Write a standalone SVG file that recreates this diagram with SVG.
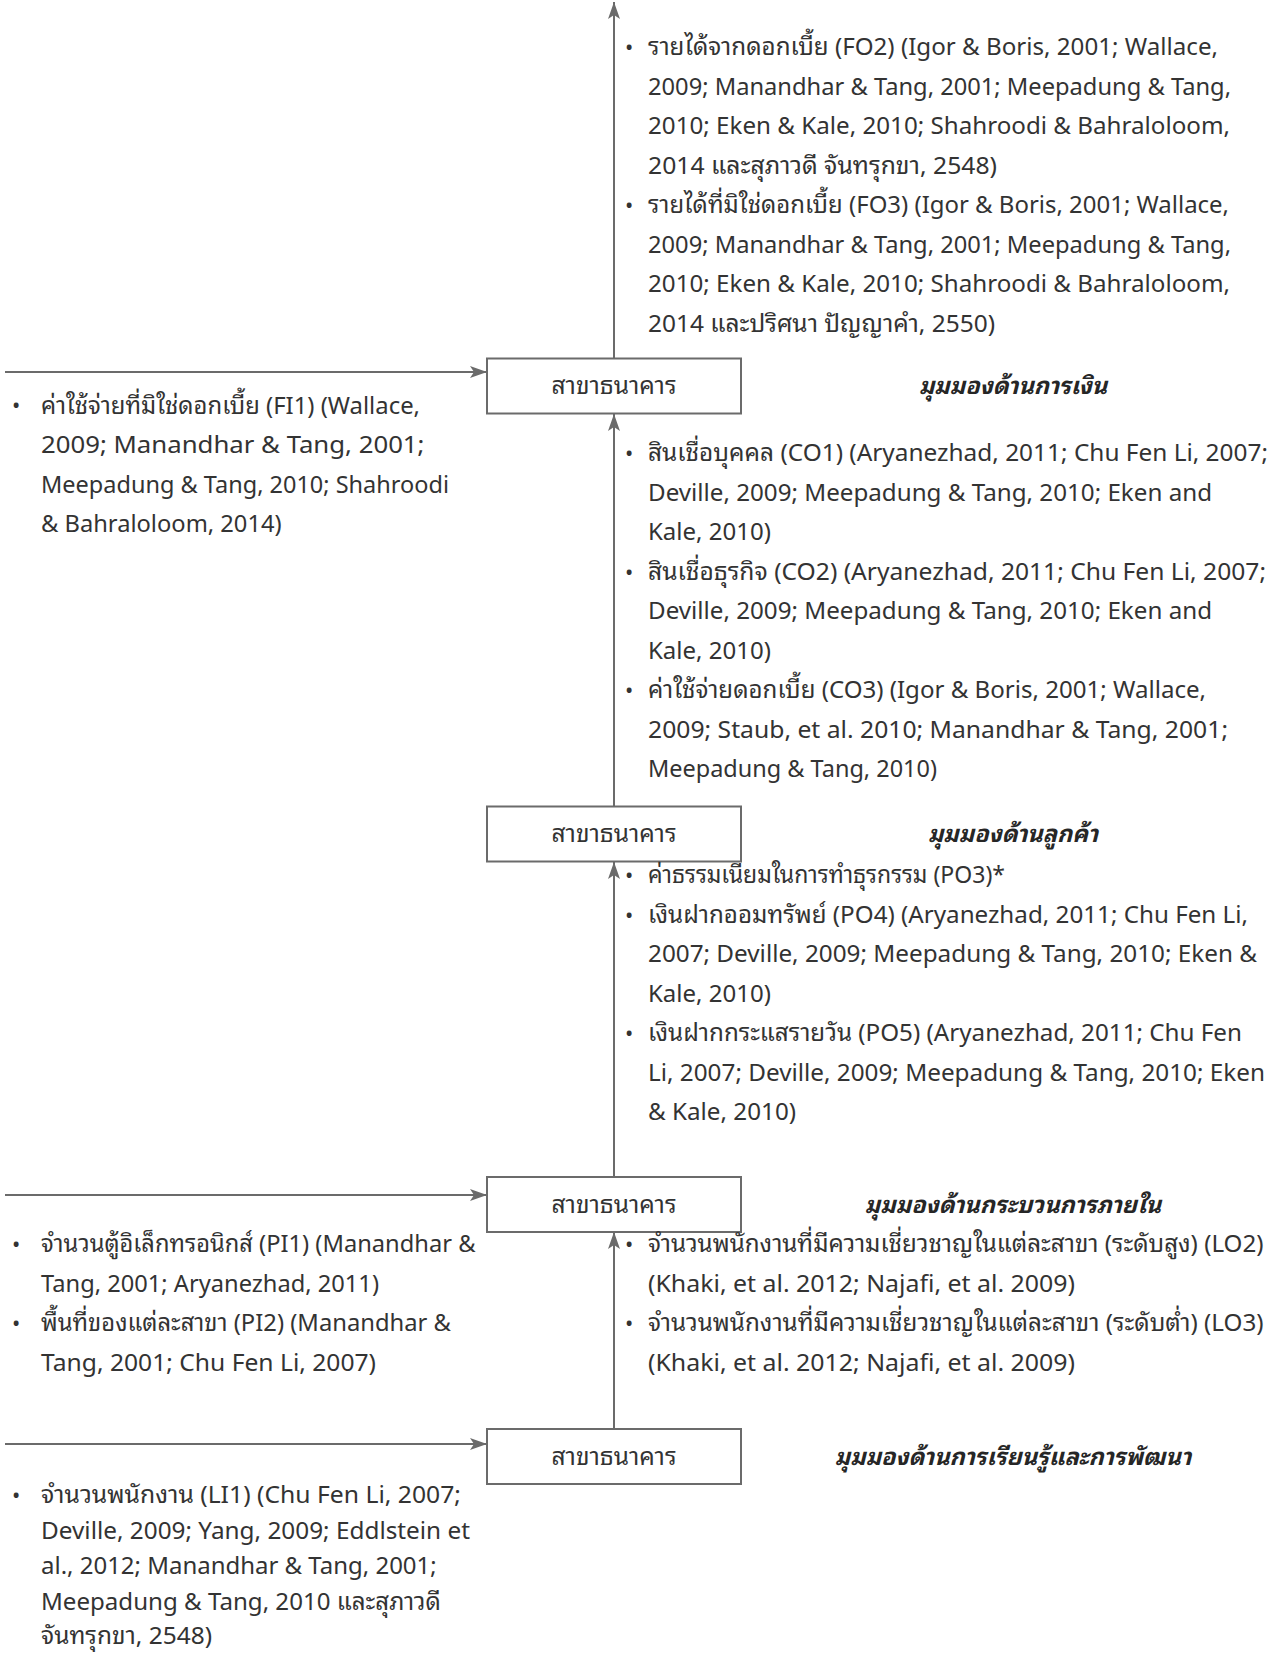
<svg xmlns="http://www.w3.org/2000/svg" width="1280" height="1653" viewBox="0 0 1280 1653">
<style>
.t{font-family:"Noto Sans Thai Looped","Noto Sans Thai","Noto Sans","DejaVu Sans",sans-serif;font-size:24px;fill:#333333}
.b{font-family:"Noto Sans","DejaVu Sans",sans-serif;font-size:22px;fill:#333333}
.h{font-family:"Noto Sans Thai Looped","Noto Sans Thai","Noto Sans","DejaVu Sans",sans-serif;font-size:23.5px;font-weight:bold;font-style:italic;fill:#262626;text-anchor:middle}
.lbl{font-family:"Noto Sans Thai Looped","Noto Sans Thai","Noto Sans","DejaVu Sans",sans-serif;font-size:24.5px;fill:#333333;text-anchor:middle}
.box{fill:#ffffff;stroke:#6b6b6b;stroke-width:2}
.c{stroke:#6b6b6b;stroke-width:2;fill:none}
</style>
<defs>
<marker id="ah" markerUnits="userSpaceOnUse" markerWidth="18" markerHeight="14" refX="17" refY="7" orient="auto">
<path d="M0,1 L17,7 L0,13 L4,7 z" fill="#6b6b6b"/>
</marker>
</defs>
<g id="connectors">
<line class="c" x1="614" y1="358" x2="614" y2="2" marker-end="url(#ah)"/>
<line class="c" x1="5" y1="372" x2="487" y2="372" marker-end="url(#ah)"/>
<line class="c" x1="614" y1="806" x2="614" y2="414" marker-end="url(#ah)"/>
<line class="c" x1="614" y1="1177" x2="614" y2="862" marker-end="url(#ah)"/>
<line class="c" x1="5" y1="1195" x2="487" y2="1195" marker-end="url(#ah)"/>
<line class="c" x1="614" y1="1429" x2="614" y2="1232" marker-end="url(#ah)"/>
<line class="c" x1="5" y1="1444" x2="487" y2="1444" marker-end="url(#ah)"/>
</g>
<g id="node-financial">
<rect class="box" x="487" y="358.5" width="254" height="55"/>
<text class="lbl" x="614" y="394">สาขาธนาคาร</text>
<text class="h" x="1013" y="394">มุมมองด้านการเงิน</text>
</g>
<g id="node-customer">
<rect class="box" x="487" y="806.5" width="254" height="55"/>
<text class="lbl" x="614" y="842">สาขาธนาคาร</text>
<text class="h" x="1013" y="842">มุมมองด้านลูกค้า</text>
</g>
<g id="node-internal">
<rect class="box" x="487" y="1177" width="254" height="55"/>
<text class="lbl" x="614" y="1212.5">สาขาธนาคาร</text>
<text class="h" x="1013" y="1212.5">มุมมองด้านกระบวนการภายใน</text>
</g>
<g id="node-learning">
<rect class="box" x="487" y="1429" width="254" height="55"/>
<text class="lbl" x="614" y="1464.5">สาขาธนาคาร</text>
<text class="h" x="1013" y="1464.5">มุมมองด้านการเรียนรู้และการพัฒนา</text>
</g>
<g id="text-FO">
<text class="b" x="625" y="55">•</text>
<text class="t" x="648" y="55.3" textLength="570" lengthAdjust="spacingAndGlyphs">รายได้จากดอกเบี้ย (FO2) (Igor &amp; Boris, 2001; Wallace,</text>
<text class="t" x="648" y="94.8" textLength="583" lengthAdjust="spacingAndGlyphs">2009; Manandhar &amp; Tang, 2001; Meepadung &amp; Tang,</text>
<text class="t" x="648" y="134.3" textLength="582" lengthAdjust="spacingAndGlyphs">2010; Eken &amp; Kale, 2010; Shahroodi &amp; Bahraloloom,</text>
<text class="t" x="648" y="173.8" textLength="349" lengthAdjust="spacingAndGlyphs">2014 และสุภาวดี จันทรุกขา, 2548)</text>
<text class="b" x="625" y="213">•</text>
<text class="t" x="648" y="213.3" textLength="581" lengthAdjust="spacingAndGlyphs">รายได้ที่มิใช่ดอกเบี้ย (FO3) (Igor &amp; Boris, 2001; Wallace,</text>
<text class="t" x="648" y="252.8" textLength="583" lengthAdjust="spacingAndGlyphs">2009; Manandhar &amp; Tang, 2001; Meepadung &amp; Tang,</text>
<text class="t" x="648" y="292.3" textLength="582" lengthAdjust="spacingAndGlyphs">2010; Eken &amp; Kale, 2010; Shahroodi &amp; Bahraloloom,</text>
<text class="t" x="648" y="331.8" textLength="347" lengthAdjust="spacingAndGlyphs">2014 และปริศนา ปัญญาคำ, 2550)</text>
</g>
<g id="text-FI">
<text class="b" x="12" y="413">•</text>
<text class="t" x="41" y="413.5" textLength="379" lengthAdjust="spacingAndGlyphs">ค่าใช้จ่ายที่มิใช่ดอกเบี้ย (FI1) (Wallace,</text>
<text class="t" x="41" y="453" textLength="383.5" lengthAdjust="spacingAndGlyphs">2009; Manandhar &amp; Tang, 2001;</text>
<text class="t" x="41" y="492.5" textLength="408" lengthAdjust="spacingAndGlyphs">Meepadung &amp; Tang, 2010; Shahroodi</text>
<text class="t" x="41" y="532" textLength="240.6" lengthAdjust="spacingAndGlyphs">&amp; Bahraloloom, 2014)</text>
</g>
<g id="text-CO">
<text class="b" x="625" y="461">•</text>
<text class="t" x="648" y="461.3" textLength="620" lengthAdjust="spacingAndGlyphs">สินเชื่อบุคคล (CO1) (Aryanezhad, 2011; Chu Fen Li, 2007;</text>
<text class="t" x="648" y="500.8" textLength="564" lengthAdjust="spacingAndGlyphs">Deville, 2009; Meepadung &amp; Tang, 2010; Eken and</text>
<text class="t" x="648" y="540.3" textLength="123" lengthAdjust="spacingAndGlyphs">Kale, 2010)</text>
<text class="b" x="625" y="579.5">•</text>
<text class="t" x="648" y="579.8" textLength="618" lengthAdjust="spacingAndGlyphs">สินเชื่อธุรกิจ (CO2) (Aryanezhad, 2011; Chu Fen Li, 2007;</text>
<text class="t" x="648" y="619.3" textLength="564" lengthAdjust="spacingAndGlyphs">Deville, 2009; Meepadung &amp; Tang, 2010; Eken and</text>
<text class="t" x="648" y="658.8" textLength="123" lengthAdjust="spacingAndGlyphs">Kale, 2010)</text>
<text class="b" x="625" y="698">•</text>
<text class="t" x="648" y="698.3" textLength="558" lengthAdjust="spacingAndGlyphs">ค่าใช้จ่ายดอกเบี้ย (CO3) (Igor &amp; Boris, 2001; Wallace,</text>
<text class="t" x="648" y="737.8" textLength="580" lengthAdjust="spacingAndGlyphs">2009; Staub, et al. 2010; Manandhar &amp; Tang, 2001;</text>
<text class="t" x="648" y="777.3" textLength="289" lengthAdjust="spacingAndGlyphs">Meepadung &amp; Tang, 2010)</text>
</g>
<g id="text-PO">
<text class="b" x="625" y="883">•</text>
<text class="t" x="648" y="883.1" textLength="357" lengthAdjust="spacingAndGlyphs">ค่าธรรมเนียมในการทำธุรกรรม (PO3)*</text>
<text class="b" x="625" y="922.5">•</text>
<text class="t" x="648" y="922.6" textLength="600" lengthAdjust="spacingAndGlyphs">เงินฝากออมทรัพย์ (PO4) (Aryanezhad, 2011; Chu Fen Li,</text>
<text class="t" x="648" y="962.1" textLength="609" lengthAdjust="spacingAndGlyphs">2007; Deville, 2009; Meepadung &amp; Tang, 2010; Eken &amp;</text>
<text class="t" x="648" y="1001.6" textLength="123" lengthAdjust="spacingAndGlyphs">Kale, 2010)</text>
<text class="b" x="625" y="1041">•</text>
<text class="t" x="648" y="1041.1" textLength="594" lengthAdjust="spacingAndGlyphs">เงินฝากกระแสรายวัน (PO5) (Aryanezhad, 2011; Chu Fen</text>
<text class="t" x="648" y="1080.6" textLength="617" lengthAdjust="spacingAndGlyphs">Li, 2007; Deville, 2009; Meepadung &amp; Tang, 2010; Eken</text>
<text class="t" x="648" y="1120.1" textLength="148" lengthAdjust="spacingAndGlyphs">&amp; Kale, 2010)</text>
</g>
<g id="text-PI">
<text class="b" x="12" y="1252">•</text>
<text class="t" x="41" y="1252.1" textLength="434.5" lengthAdjust="spacingAndGlyphs">จำนวนตู้อิเล็กทรอนิกส์ (PI1) (Manandhar &amp;</text>
<text class="t" x="41" y="1291.6" textLength="338" lengthAdjust="spacingAndGlyphs">Tang, 2001; Aryanezhad, 2011)</text>
<text class="b" x="12" y="1331">•</text>
<text class="t" x="41" y="1331.1" textLength="410" lengthAdjust="spacingAndGlyphs">พื้นที่ของแต่ละสาขา (PI2) (Manandhar &amp;</text>
<text class="t" x="41" y="1370.6" textLength="335" lengthAdjust="spacingAndGlyphs">Tang, 2001; Chu Fen Li, 2007)</text>
</g>
<g id="text-LO">
<text class="b" x="625" y="1252">•</text>
<text class="t" x="648" y="1252.1" textLength="615.5" lengthAdjust="spacingAndGlyphs">จำนวนพนักงานที่มีความเชี่ยวชาญในแต่ละสาขา (ระดับสูง) (LO2)</text>
<text class="t" x="648" y="1291.6" textLength="427" lengthAdjust="spacingAndGlyphs">(Khaki, et al. 2012; Najafi, et al. 2009)</text>
<text class="b" x="625" y="1331">•</text>
<text class="t" x="648" y="1331.1" textLength="615.5" lengthAdjust="spacingAndGlyphs">จำนวนพนักงานที่มีความเชี่ยวชาญในแต่ละสาขา (ระดับต่ำ) (LO3)</text>
<text class="t" x="648" y="1370.6" textLength="427" lengthAdjust="spacingAndGlyphs">(Khaki, et al. 2012; Najafi, et al. 2009)</text>
</g>
<g id="text-LI">
<text class="b" x="12" y="1503">•</text>
<text class="t" x="41" y="1503" textLength="420" lengthAdjust="spacingAndGlyphs">จำนวนพนักงาน (LI1) (Chu Fen Li, 2007;</text>
<text class="t" x="41" y="1538.5" textLength="429" lengthAdjust="spacingAndGlyphs">Deville, 2009; Yang, 2009; Eddlstein et</text>
<text class="t" x="41" y="1574" textLength="395.7" lengthAdjust="spacingAndGlyphs">al., 2012; Manandhar &amp; Tang, 2001;</text>
<text class="t" x="41" y="1609.5" textLength="399.8" lengthAdjust="spacingAndGlyphs">Meepadung &amp; Tang, 2010 และสุภาวดี</text>
<text class="t" x="41" y="1644" textLength="171" lengthAdjust="spacingAndGlyphs">จันทรุกขา, 2548)</text>
</g>
</svg>
